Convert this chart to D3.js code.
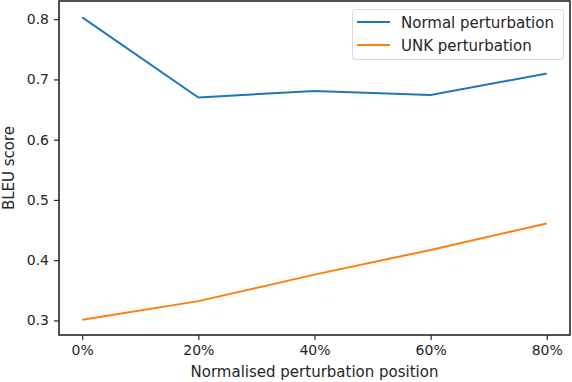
<!DOCTYPE html>
<html>
<head>
<meta charset="utf-8">
<script src="https://cdn.jsdelivr.net/npm/d3@7"></script>
<style>
  body { margin: 0; background: #fff; }
  text { font-family: "DejaVu Sans", sans-serif; fill: #262626; }
</style>
</head>
<body>
<div id="container"></div>
<script>
/**
 * DATA
 * */
const positions = [0, 20, 40, 60, 80];
const normalScores = [0.803, 0.670, 0.681, 0.674, 0.710];
const unkScores = [0.301, 0.332, 0.376, 0.417, 0.461];
const yTicks = [0.3, 0.4, 0.5, 0.6, 0.7, 0.8];
const seriesNames = ["Normal perturbation", "UNK perturbation"];
const seriesColors = ["#1f77b4", "#ff7f0e"];

const width = 572,
  height = 382,
  margin = { top: 1, bottom: 47, left: 59, right: 2 };

const svg = d3.select("#container")
  .append("svg")
  .attr("width", width)
  .attr("height", height);

const x = d3.scaleLinear()
  .domain([-4, 84])
  .range([margin.left, width - margin.right]);

const y = d3.scaleLinear()
  .domain([0.2758, 0.8302])
  .range([height - margin.bottom, margin.top]);

// axes
const xAxis = d3.axisBottom(x)
  .tickValues(positions)
  .tickFormat(d => d + "%")
  .tickSize(5)
  .tickPadding(5);

const yAxis = d3.axisLeft(y)
  .tickValues(yTicks)
  .tickFormat(d3.format(".1f"))
  .tickSize(5)
  .tickPadding(5);

const gx = svg.append("g")
  .attr("transform", `translate(0,${height - margin.bottom})`)
  .call(xAxis);
const gy = svg.append("g")
  .attr("transform", `translate(${margin.left},0)`)
  .call(yAxis);

[gx, gy].forEach(g => {
  g.select(".domain").remove();
  g.selectAll(".tick line").attr("stroke", "#262626").attr("stroke-width", 1.2);
  g.selectAll(".tick text")
    .style("font-family", "DejaVu Sans, sans-serif")
    .style("font-size", "14px")
    .attr("fill", "#262626");
});

// frame
svg.append("rect")
  .attr("x", margin.left)
  .attr("y", margin.top)
  .attr("width", width - margin.left - margin.right)
  .attr("height", height - margin.top - margin.bottom)
  .attr("fill", "none")
  .attr("stroke", "#262626")
  .attr("stroke-width", 1.6);

// lines
const lineGen = d3.line()
  .x((d, i) => x(positions[i]))
  .y(d => y(d));

[normalScores, unkScores].forEach((series, i) => {
  svg.append("path")
    .datum(series)
    .attr("d", lineGen)
    .attr("fill", "none")
    .attr("stroke", seriesColors[i])
    .attr("stroke-width", 2);
});

// axis labels
svg.append("text")
  .attr("x", (margin.left + width - margin.right) / 2)
  .attr("y", 377)
  .attr("text-anchor", "middle")
  .style("font-size", "15px")
  .text("Normalised perturbation position");

svg.append("text")
  .attr("transform", `translate(14,${(margin.top + height - margin.bottom) / 2}) rotate(-90)`)
  .attr("text-anchor", "middle")
  .style("font-size", "15px")
  .text("BLEU score");

// legend
const legend = svg.append("g");
legend.append("rect")
  .attr("x", 352.5)
  .attr("y", 9.5)
  .attr("width", 211)
  .attr("height", 50)
  .attr("rx", 3)
  .attr("fill", "#fff")
  .attr("fill-opacity", 0.8)
  .attr("stroke", "#d9d9d9");

seriesNames.forEach((name, i) => {
  const ly = 22 + i * 23;
  legend.append("line")
    .attr("x1", 357).attr("x2", 390)
    .attr("y1", ly).attr("y2", ly)
    .attr("stroke", seriesColors[i])
    .attr("stroke-width", 2);
  legend.append("text")
    .attr("x", 401)
    .attr("y", ly + 5.5)
    .style("font-size", "15px")
    .text(name);
});
</script>
</body>
</html>
